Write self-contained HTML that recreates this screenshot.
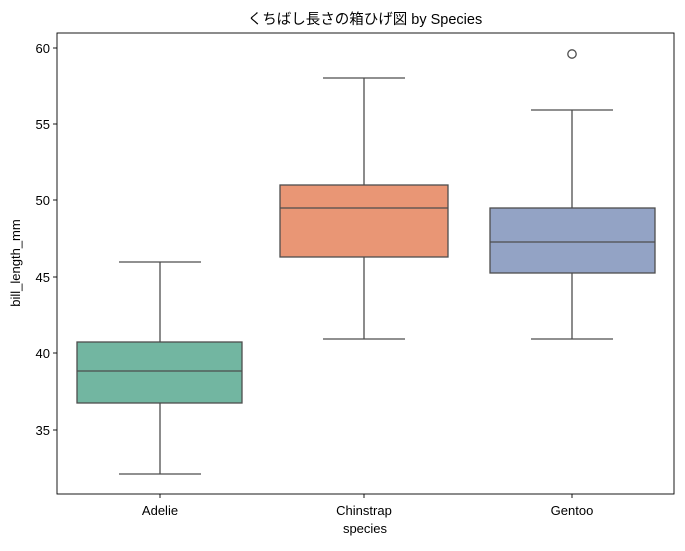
<!DOCTYPE html>
<html><head><meta charset="utf-8"><style>
body{margin:0;background:#fff;}
svg text{font-family:"Liberation Sans","Noto Sans CJK JP",sans-serif;fill:#000;}
</style></head><body>
<svg width="685" height="546" viewBox="0 0 685 546" xmlns="http://www.w3.org/2000/svg">
<rect width="685" height="546" fill="#fff"/>
<g stroke="#4d4d4d" stroke-width="1.3" fill="none">
<line x1="160" y1="474" x2="160" y2="403"/><line x1="160" y1="342" x2="160" y2="262"/>
<line x1="119" y1="474" x2="201" y2="474"/><line x1="119" y1="262" x2="201" y2="262"/>
<rect x="77" y="342" width="165" height="61" fill="#72b6a1"/>
<line x1="77" y1="371" x2="242" y2="371"/>
<line x1="364" y1="339" x2="364" y2="257"/><line x1="364" y1="185" x2="364" y2="78"/>
<line x1="323" y1="339" x2="405" y2="339"/><line x1="323" y1="78" x2="405" y2="78"/>
<rect x="280" y="185" width="168" height="72" fill="#e99675"/>
<line x1="280" y1="208" x2="448" y2="208"/>
<line x1="572" y1="339" x2="572" y2="273"/><line x1="572" y1="208" x2="572" y2="110"/>
<line x1="531" y1="339" x2="613" y2="339"/><line x1="531" y1="110" x2="613" y2="110"/>
<rect x="490" y="208" width="165" height="65" fill="#93a3c5"/>
<line x1="490" y1="242" x2="655" y2="242"/>
<circle cx="572" cy="54" r="4.2"/>
</g>
<rect x="57" y="33" width="617" height="461" fill="none" stroke="#000" stroke-width="0.9"/>
<g stroke="#000" stroke-width="0.9">
<line x1="53" y1="48" x2="57" y2="48"/><line x1="53" y1="124" x2="57" y2="124"/>
<line x1="53" y1="200" x2="57" y2="200"/><line x1="53" y1="277" x2="57" y2="277"/>
<line x1="53" y1="353" x2="57" y2="353"/><line x1="53" y1="430" x2="57" y2="430"/>
<line x1="160" y1="494" x2="160" y2="498"/><line x1="364" y1="494" x2="364" y2="498"/><line x1="572" y1="494" x2="572" y2="498"/>
</g>
<g font-size="13" text-anchor="end">
<text x="50" y="53">60</text><text x="50" y="129">55</text><text x="50" y="205">50</text>
<text x="50" y="282">45</text><text x="50" y="358">40</text><text x="50" y="435">35</text>
</g>
<g font-size="13" text-anchor="middle">
<text x="160" y="515">Adelie</text><text x="364" y="515">Chinstrap</text><text x="572" y="515">Gentoo</text>
<text x="365" y="533">species</text>
<text x="365" y="24" font-size="14.5">くちばし長さの箱ひげ図 by Species</text>
<text transform="translate(20,263) rotate(-90)">bill_length_mm</text>
</g>
</svg>
</body></html>
